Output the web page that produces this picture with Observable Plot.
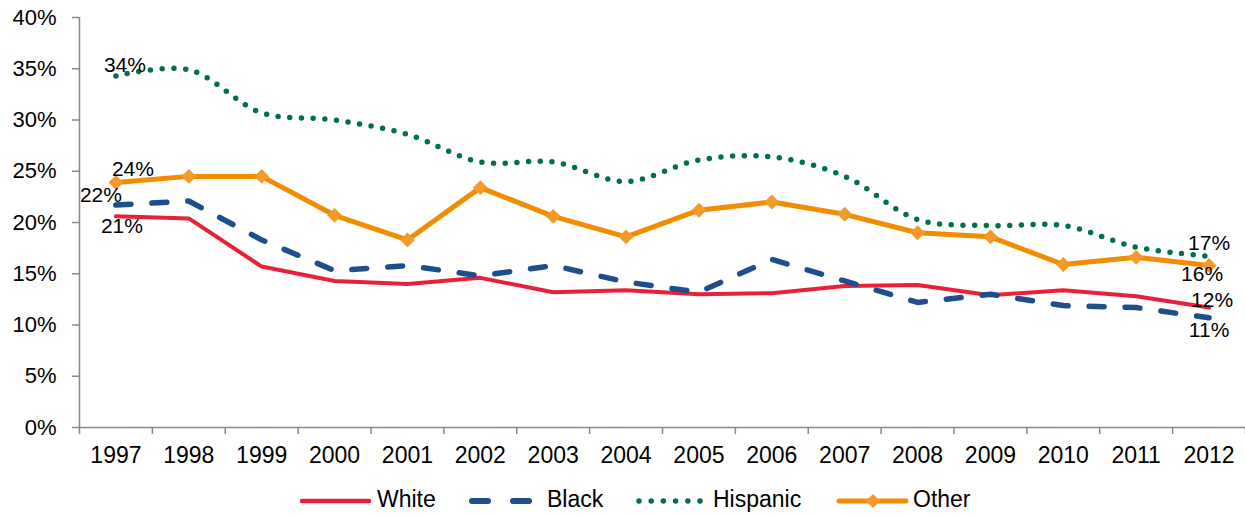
<!DOCTYPE html>
<html><head><meta charset="utf-8">
<script src="https://cdn.jsdelivr.net/npm/d3@7"></script>
<script src="https://cdn.jsdelivr.net/npm/@observablehq/plot@0.6"></script>
<style>
body{margin:0;background:#fff;font-family:"Liberation Sans",Arial,sans-serif;}
#legend{position:relative;width:1245px;height:47px;font-size:23px;color:#000;}
#legend svg{position:absolute;top:0;left:0;}
#legend span{position:absolute;top:18px;line-height:23px;white-space:nowrap;}
</style>
</head><body>
<div id="chart"></div>
<div id="legend"></div>
<script>
const years = [1997,1998,1999,2000,2001,2002,2003,2004,2005,2006,2007,2008,2009,2010,2011,2012];
const white    = [20.6,20.4,15.7,14.3,14.0,14.6,13.2,13.4,13.0,13.1,13.8,13.9,12.9,13.4,12.8,11.7];
const black    = [21.7,22.1,18.3,15.3,15.8,14.8,15.8,14.2,13.2,16.4,14.3,12.2,13.0,11.9,11.7,10.7];
const hispanic = [34.3,34.9,30.7,30.0,28.6,25.9,25.9,24.0,26.1,26.4,24.5,20.3,19.7,19.7,17.6,16.7];
const other    = [23.9,24.5,24.5,20.7,18.3,23.4,20.6,18.6,21.2,22.0,20.8,19.0,18.6,15.9,16.6,15.8];
const yTicks = [0,5,10,15,20,25,30,35,40];
const seriesNames = ["White","Black","Hispanic","Other"];
const colors = {White:"#e8203a", Black:"#1f4e8d", Hispanic:"#00704a", Other:"#f28c00"};
const diamondColor = "#f39a2b";
const axisGrey = "#898989";

const rows = (vals, name) => years.map((y,i) => ({year:y, value:vals[i], series:name}));
const dWhite = rows(white,"White"), dBlack = rows(black,"Black"),
      dHisp = rows(hispanic,"Hispanic"), dOther = rows(other,"Other");
const bounds = years.map(y => y - 0.5).concat([years[years.length-1] + 0.5]);
const first = arr => [arr[0]];
const last = arr => [arr[arr.length-1]];
const lbl = (data, dx, dy) => Plot.text(data, {x:"year", y:"value", text: d => Math.round(d.value) + "%",
  dx, dy, fontSize:21, fill:"#000", textAnchor:"middle"});

const chart = Plot.plot({
  width:1245, height:470,
  marginLeft:79, marginRight:0, marginTop:17, marginBottom:43,
  style:{fontFamily:'"Liberation Sans", Arial, sans-serif', color:"#000", background:"#fff"},
  x:{type:"linear", domain:[bounds[0], bounds[bounds.length-1]]},
  y:{domain:[0,40]},
  marks:[
    Plot.ruleX([bounds[0]], {y1:0, y2:40, stroke:axisGrey, strokeWidth:1.5}),
    Plot.ruleY([0], {stroke:axisGrey, strokeWidth:1.5}),
    Plot.axisY({ticks:yTicks, tickFormat:d => d + "%", tickSize:7, tickPadding:16, fontSize:22,
      stroke:axisGrey, strokeWidth:1.5, fill:"#000", label:null}),
    Plot.axisX({ticks:bounds, tickFormat:() => "", tickSize:7, stroke:axisGrey, strokeWidth:1.5, label:null}),
    Plot.axisX({ticks:years, tickFormat:d => String(d), tickSize:0, tickPadding:19, fontSize:23, fill:"#000", label:null}),
    Plot.line(dWhite, {x:"year", y:"value", stroke:colors.White, strokeWidth:4}),
    Plot.line(dBlack, {x:"year", y:"value", stroke:colors.Black, strokeWidth:5.5, strokeDasharray:"15,21", strokeLinecap:"round"}),
    Plot.line(dHisp, {x:"year", y:"value", stroke:colors.Hispanic, strokeWidth:5.5, strokeDasharray:"0,11.7", strokeLinecap:"round", curve:"catmull-rom"}),
    Plot.line(dOther, {x:"year", y:"value", stroke:colors.Other, strokeWidth:5}),
    Plot.dot(dOther, {x:"year", y:"value", symbol:"diamond2", r:6.7, fill:diamondColor, stroke:null}),
    lbl(first(dHisp), 9, -11),
    lbl(first(dOther), 17, -13),
    lbl(first(dBlack), -15, -10),
    lbl(first(dWhite), 6, 10),
    lbl(last(dHisp), 0, -13),
    lbl(last(dOther), -7, 9),
    lbl(last(dWhite), 3, -7),
    lbl(last(dBlack), 0, 12)
  ]
});
document.getElementById("chart").appendChild(chart);

// Legend (below the SVG)
const legend = document.getElementById("legend");
const ly = 31; // swatch centre inside the legend box
legend.innerHTML = `
<svg width="1245" height="47">
  <line x1="302" y1="${ly}" x2="369" y2="${ly}" stroke="${colors.White}" stroke-width="4.5" stroke-linecap="round"/>
  <line x1="472" y1="${ly}" x2="488" y2="${ly}" stroke="${colors.Black}" stroke-width="6" stroke-linecap="round"/>
  <line x1="513" y1="${ly}" x2="529" y2="${ly}" stroke="${colors.Black}" stroke-width="6" stroke-linecap="round"/>
  <line x1="639" y1="${ly}" x2="700" y2="${ly}" stroke="${colors.Hispanic}" stroke-width="5.5" stroke-dasharray="0,12.2" stroke-linecap="round"/>
  <line x1="839" y1="${ly}" x2="906" y2="${ly}" stroke="${colors.Other}" stroke-width="5" stroke-linecap="round"/>
  <path d="M873,${ly-7} L880,${ly} L873,${ly+7} L866,${ly} Z" fill="${diamondColor}"/>
</svg>
<span style="left:377px">${seriesNames[0]}</span>
<span style="left:547px">${seriesNames[1]}</span>
<span style="left:713px">${seriesNames[2]}</span>
<span style="left:913px">${seriesNames[3]}</span>`;
</script>
</body></html>
